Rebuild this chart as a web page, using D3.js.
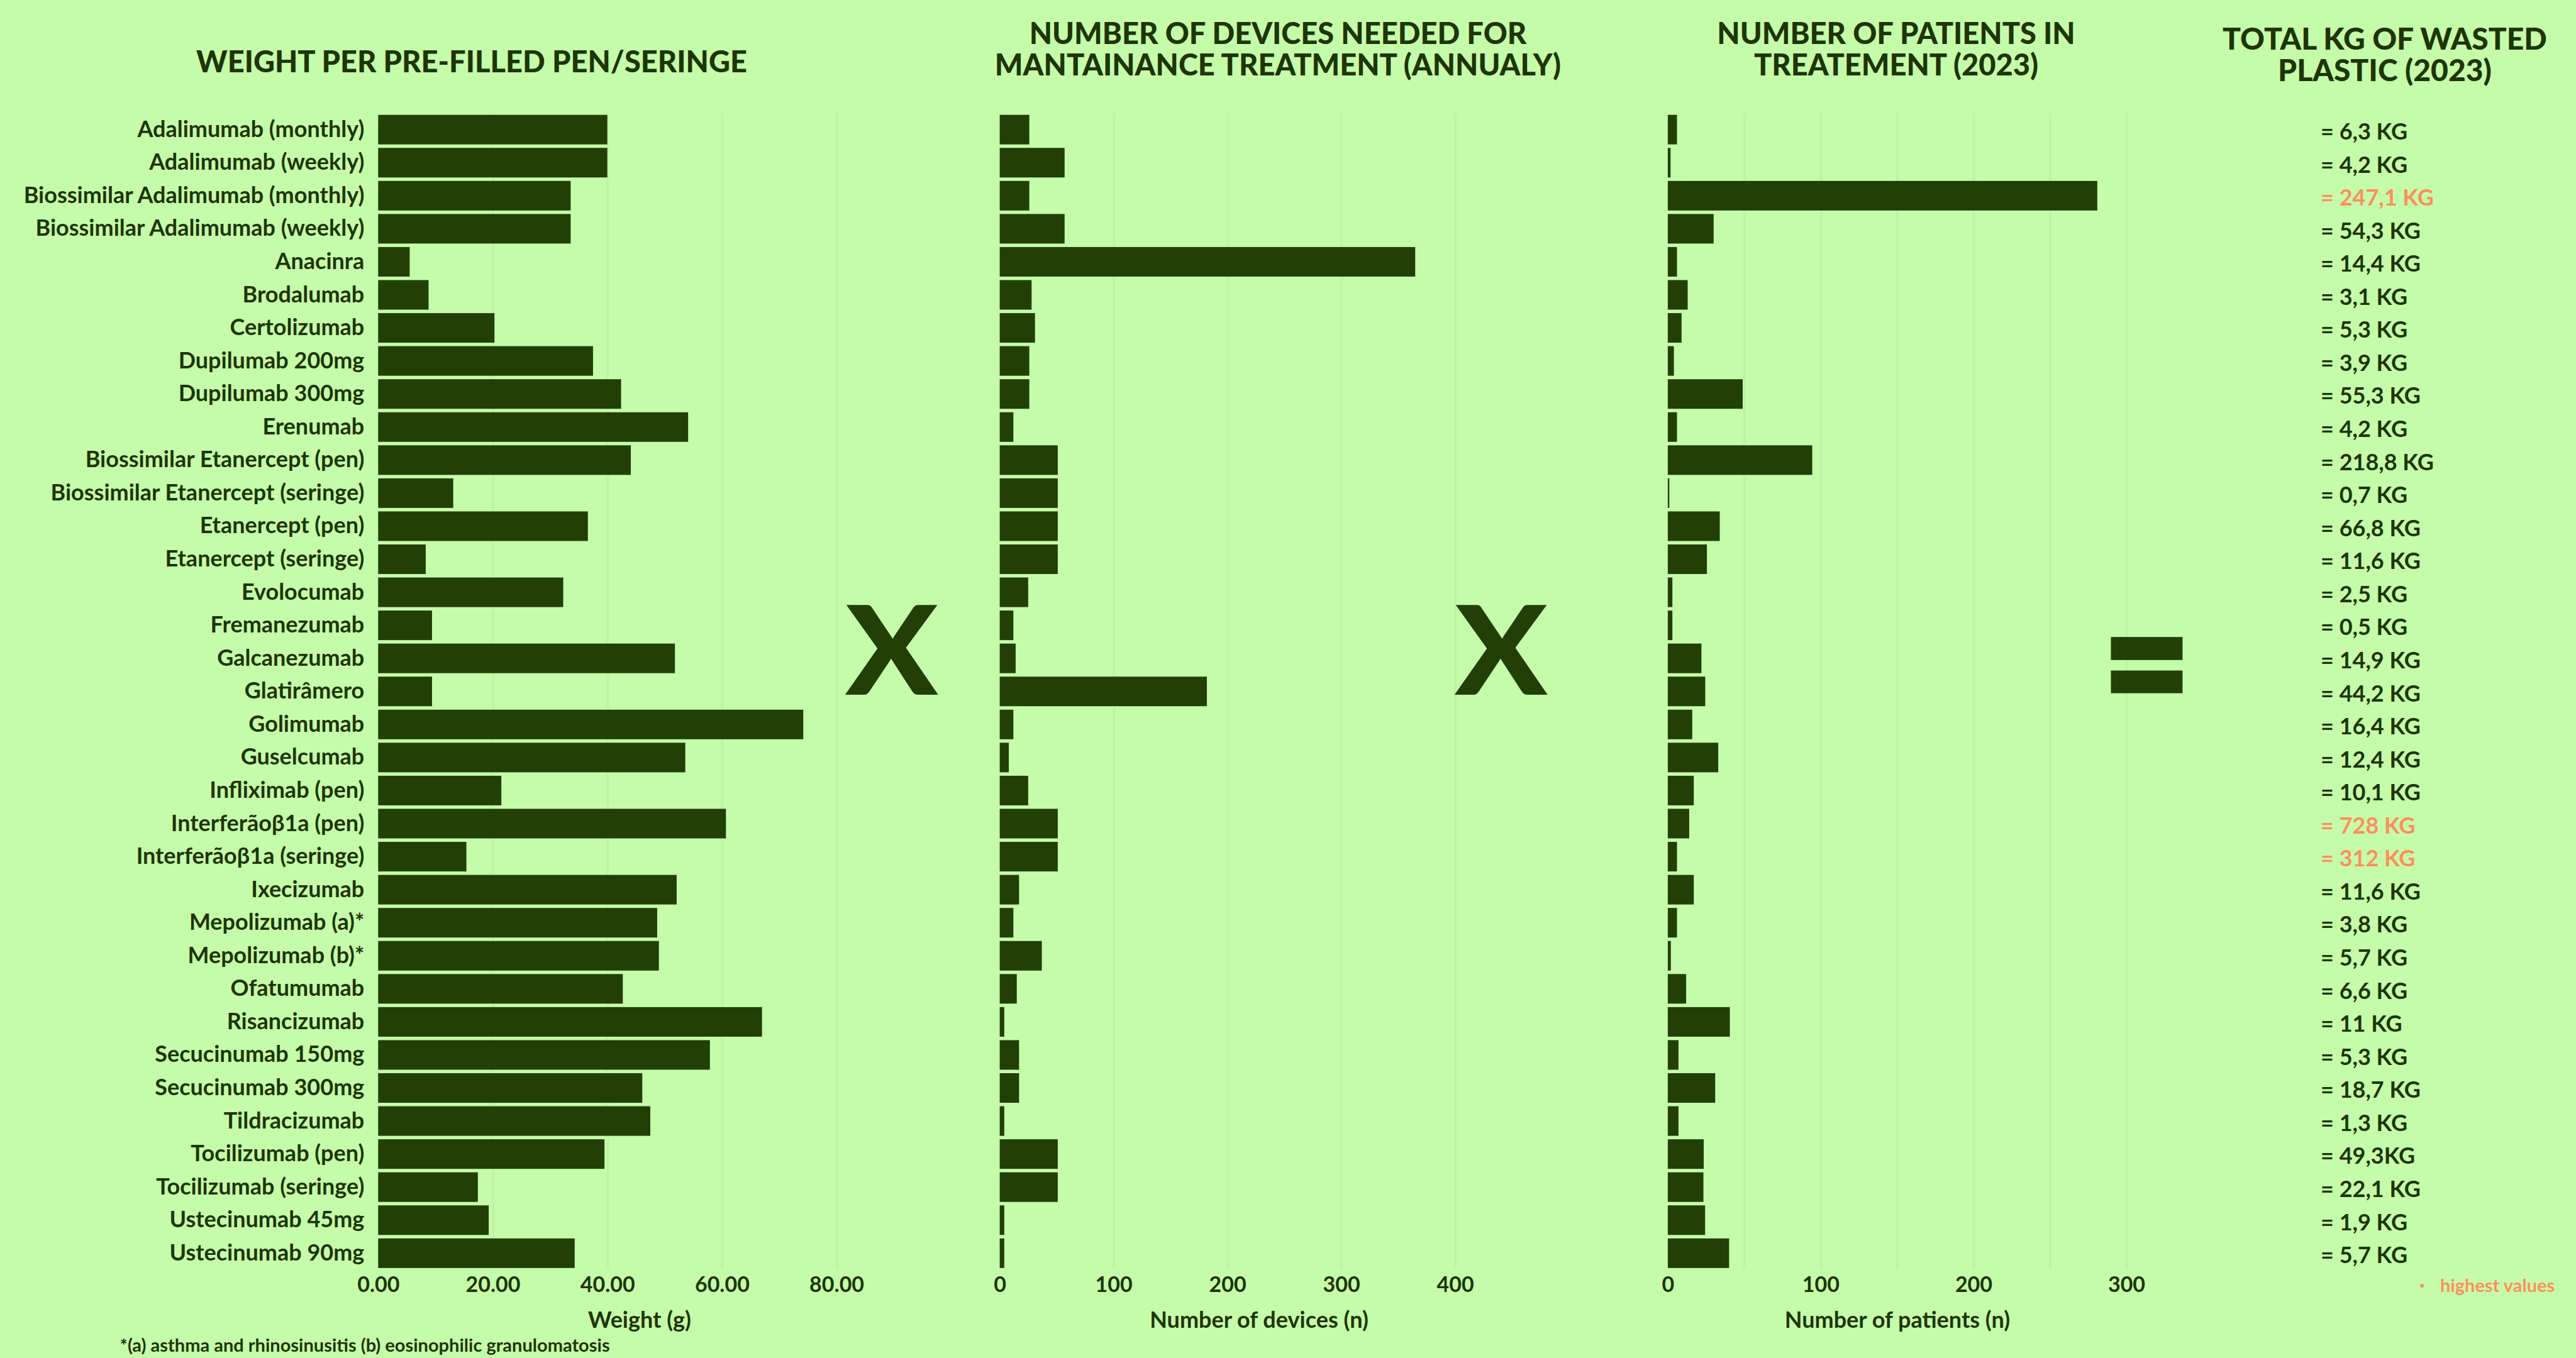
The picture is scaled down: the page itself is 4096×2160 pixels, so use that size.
<!DOCTYPE html>
<html><head><meta charset="utf-8">
<script src="https://cdn.jsdelivr.net/npm/d3@7"></script>
<style>
body{margin:0;background:#c5fcaa;}
svg{display:block;}
text{font-family:Lato,"Noto Sans",sans-serif;}
</style>
</head><body>
<svg id="chart" width="4096" height="2160"></svg>
<script>
// ---------------- DATA ----------------
const categories = ["Adalimumab (monthly)","Adalimumab (weekly)","Biossimilar Adalimumab (monthly)","Biossimilar Adalimumab (weekly)","Anacinra","Brodalumab","Certolizumab","Dupilumab 200mg","Dupilumab 300mg","Erenumab","Biossimilar Etanercept (pen)","Biossimilar Etanercept (seringe)","Etanercept (pen)","Etanercept (seringe)","Evolocumab","Fremanezumab","Galcanezumab","Glatirâmero","Golimumab","Guselcumab","Infliximab (pen)","Interferãoβ1a (pen)","Interferãoβ1a (seringe)","Ixecizumab","Mepolizumab (a)*","Mepolizumab (b)*","Ofatumumab","Risancizumab","Secucinumab 150mg","Secucinumab 300mg","Tildracizumab","Tocilizumab (pen)","Tocilizumab (seringe)","Ustecinumab 45mg","Ustecinumab 90mg"];
const weightG = [40.0,40.0,33.6,33.6,5.5,8.8,20.3,37.5,42.4,54.1,44.1,13.1,36.6,8.3,32.3,9.4,51.8,9.4,74.2,53.6,21.5,60.7,15.4,52.1,48.7,49.0,42.7,67.0,57.9,46.1,47.5,39.5,17.4,19.3,34.3];
const devicesN = [26,57,26,57,365,28,31,26,26,12,51,51,51,51,25,12,14,182,12,8,25,51,51,17,12,37,15,4,17,17,4,51,51,4,4];
const patientsN = [6,1.8,281,30,6,13,9,4,49,6,94.5,1,34,25.6,3,3,22,24.5,16,33,17,14,6,17,6,2,12,40.6,7,31,7,23.5,23.3,24.4,40.1];
const totalsKg = ["= 6,3 KG","= 4,2 KG","= 247,1 KG","= 54,3 KG","= 14,4 KG","= 3,1 KG","= 5,3 KG","= 3,9 KG","= 55,3 KG","= 4,2 KG","= 218,8 KG","= 0,7 KG","= 66,8 KG","= 11,6 KG","= 2,5 KG","= 0,5 KG","= 14,9 KG","= 44,2 KG","= 16,4 KG","= 12,4 KG","= 10,1 KG","= 728 KG","= 312 KG","= 11,6 KG","= 3,8 KG","= 5,7 KG","= 6,6 KG","= 11 KG","= 5,3 KG","= 18,7 KG","= 1,3 KG","= 49,3KG","= 22,1 KG","= 1,9 KG","= 5,7 KG"];
const highestRows = ["Biossimilar Adalimumab (monthly)","Interferãoβ1a (pen)","Interferãoβ1a (seringe)"];
const weightTicks = [0,20,40,60,80];
const weightGrid = [20,40,60,80];
const deviceTicks = [0,100,200,300,400];
const deviceGrid = [100,200,300,400];
const patientTicks = [0,100,200,300];
const patientGrid = [50,100,150,200,250,300];
const titles = {
  weight:["WEIGHT PER PRE-FILLED PEN/SERINGE"],
  devices:["NUMBER OF DEVICES NEEDED FOR","MANTAINANCE TREATMENT (ANNUALY)"],
  patients:["NUMBER OF PATIENTS IN","TREATEMENT (2023)"],
  total:["TOTAL KG OF WASTED","PLASTIC (2023)"]
};
const axisTitles = ["Weight (g)","Number of devices (n)","Number of patients (n)"];
const footnote = "*(a) asthma and rhinosinusitis (b) eosinophilic granulomatosis";
const legendText = "highest values";

// ---------------- STYLE ----------------
const BG="#c5fcaa", BAR="#223f06", INK="#1e3505", ORANGE="#ff8f5c", GRID="#bef4a4";

const svg = d3.select("#chart");
svg.append("rect").attr("width",4096).attr("height",2160).attr("fill",BG);

const yTop=179.9, yBot=2019.6;
const y = d3.scaleBand().domain(categories).range([yTop,yBot]).paddingInner(0.105).paddingOuter(0.0525);

const xW = d3.scaleLinear().domain([0,80]).range([601.3,1330.1]);
const xD = d3.scaleLinear().domain([0,400]).range([1589.6,2313.6]);
const xP = d3.scaleLinear().domain([0,300]).range([2651.9,3381]);

function panel(x, values, ticks, grid, fmt){
  const g = svg.append("g");
  const gg = g.append("g").attr("transform",`translate(0,${yBot})`)
    .call(d3.axisBottom(x).tickValues(grid).tickSize(-(yBot-yTop)).tickFormat(""));
  gg.select(".domain").remove();
  gg.selectAll("line").attr("stroke",GRID).attr("stroke-width",4);
  g.selectAll("rect.bar").data(categories).join("rect").attr("class","bar")
    .attr("x",x(0)).attr("y",d=>y(d))
    .attr("width",(d,i)=>x(values[i])-x(0))
    .attr("height",y.bandwidth()).attr("fill",BAR);
  const ax = g.append("g").attr("transform",`translate(0,2020)`)
    .call(d3.axisBottom(x).tickValues(ticks).tickSize(0).tickPadding(11).tickFormat(fmt));
  ax.select(".domain").remove();
  ax.selectAll("text").attr("font-size",34).attr("font-weight",700).attr("fill",INK)
    .style("font-family","Lato");
  return g;
}
panel(xW, weightG, weightTicks, weightGrid, d3.format(".2f"));
panel(xD, devicesN, deviceTicks, deviceGrid, d3.format("d"));
panel(xP, patientsN, patientTicks, patientGrid, d3.format("d"));

// category labels
const la = svg.append("g").attr("transform",`translate(${xW(0)},0)`)
  .call(d3.axisLeft(y).tickSize(0).tickPadding(22));
la.select(".domain").remove();
la.selectAll("text").attr("font-size",36).attr("font-weight",700).attr("fill",INK)
  .style("font-family","Lato");

// axis titles
const axisTitleX = [1017,2002,3017];
axisTitles.forEach((t,i)=>{
  svg.append("text").attr("x",axisTitleX[i]).attr("y",2112).attr("text-anchor","middle")
    .attr("font-size",36).attr("font-weight",700).attr("fill",INK).text(t);
});

// titles
function title(lines, cx, baselines, size){
  const t = svg.append("text").attr("text-anchor","middle").attr("font-size",size)
    .attr("font-weight",900).attr("fill",INK);
  lines.forEach((l,i)=>t.append("tspan").attr("x",cx).attr("y",baselines[i]).text(l));
}
title(titles.weight, 750, [114.8], 47);
title(titles.devices, 2032, [70.4,120], 47);
title(titles.patients, 3015, [70.4,120], 47);
title(titles.total, 3792, [79,129], 48);

// totals
svg.append("g").selectAll("text").data(categories).join("text")
  .attr("x",3690).attr("y",d=>y(d)+y.bandwidth()/2+2.8).attr("dy","0.36em")
  .attr("font-size",36).attr("font-weight",700)
  .attr("fill",d=>highestRows.includes(d)?ORANGE:INK)
  .text((d,i)=>totalsKg[i]);

// operators
[1418,2387].forEach(cx=>{
  svg.append("text").attr("x",cx).attr("y",1105).attr("text-anchor","middle")
    .attr("font-size",197).attr("font-weight",900).attr("fill",BAR)
    .attr("transform",`translate(${cx},0) scale(1.1,1) translate(${-cx},0)`).text("X");
});
svg.append("rect").attr("x",3356.5).attr("y",1013.2).attr("width",113.9).attr("height",36.6).attr("fill",BAR);
svg.append("rect").attr("x",3356.5).attr("y",1066.5).attr("width",113.9).attr("height",36.1).attr("fill",BAR);

// legend
svg.append("circle").attr("cx",3851).attr("cy",2045).attr("r",3).attr("fill",ORANGE);
svg.append("text").attr("x",3880).attr("y",2055).attr("font-size",29).attr("font-weight",700)
  .attr("fill",ORANGE).text(legendText);

// footnote
svg.append("text").attr("x",190.6).attr("y",2150).attr("font-size",29).attr("font-weight",700)
  .attr("fill",INK).text(footnote);
</script>
</body></html>
